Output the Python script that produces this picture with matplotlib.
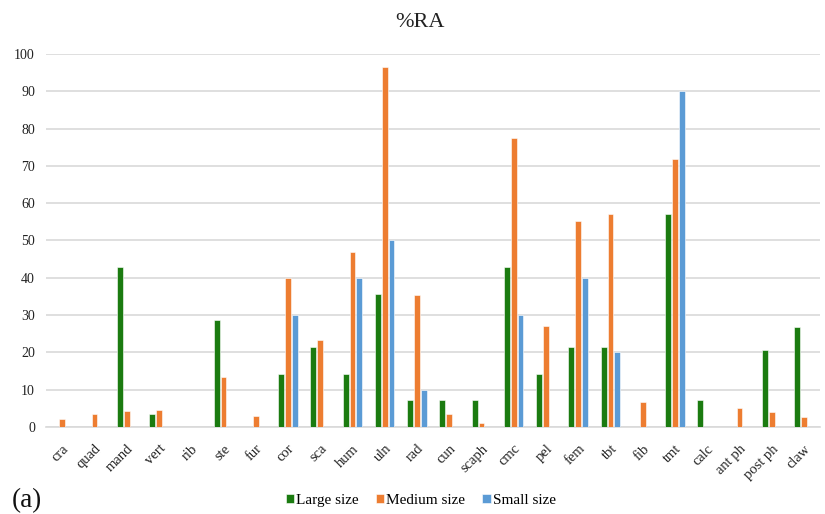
import matplotlib
matplotlib.use("Agg")
import matplotlib.pyplot as plt
import numpy as np

categories = ["cra", "quad", "mand", "vert", "rib", "ste", "fur", "cor", "sca", "hum", "uln",
              "rad", "cun", "scaph", "cmc", "pel", "fem", "tbt", "fib", "tmt", "calc",
              "ant ph", "post ph", "claw"]
large = [0, 0, 42.9, 3.6, 0, 28.6, 0, 14.3, 21.4, 14.3, 35.7, 7.1, 7.1, 7.1, 42.9, 14.3,
         21.4, 21.4, 0, 57.1, 7.1, 0, 20.7, 26.8]
medium = [2.1, 3.6, 4.2, 4.6, 0, 13.4, 3.0, 40.0, 23.4, 46.8, 96.4, 35.3, 3.6, 1.0, 77.4, 27.1,
          55.3, 57.2, 6.7, 71.8, 0, 5.1, 4.1, 2.8]
small = [0, 0, 0, 0, 0, 0, 0, 30, 0, 40, 50, 10, 0, 0, 30, 0,
         40, 20, 0, 90, 0, 0, 0, 0]
series_names = ["Large size", "Medium size", "Small size"]
colors = ["#1B7B10", "#ED7D31", "#5B9BD5"]

plt.rcParams['font.family'] = ['Liberation Serif', 'DejaVu Serif']

fig = plt.figure(figsize=(8.25, 5.14), dpi=100)
ax = fig.add_axes([0.0558, 0.1693, 0.9382, 0.7257])

x = np.arange(len(categories))
w = 0.18
off = 0.21
for i, (vals, name, c) in enumerate(zip([large, medium, small], series_names, colors)):
    ax.bar(x + (i - 1) * off, vals, width=w, color=c, label=name,
           edgecolor='white', linewidth=0.4, zorder=3)

ax.set_xlim(-0.5, len(categories) - 0.5)
ax.set_ylim(0, 100)
ax.set_yticks(np.arange(0, 101, 10))
ax.yaxis.grid(True, color='#d9d9d9', linewidth=1.2, zorder=0)
ax.set_axisbelow(True)
for s in ['top', 'right', 'left']:
    ax.spines[s].set_visible(False)
ax.spines['bottom'].set_color('#d9d9d9')
ax.spines['bottom'].set_linewidth(1.2)
ax.tick_params(axis='y', length=0, labelsize=10, pad=8, colors='#222222')
ax.tick_params(axis='x', length=0, labelsize=10.5, pad=11, colors='#222222')
ax.set_xticks(x)
ax.set_xticklabels(categories, rotation=45, ha='right', rotation_mode='anchor')

fig.text(0.509, 0.957, "%RA", ha='center', va='center', fontsize=16, color='#222222')
fig.text(0.014, 0.027, "(a)", ha='left', va='center', fontsize=19.5, color='#111111')

leg = fig.legend(loc='center', bbox_to_anchor=(0.510, 0.027), ncol=3, frameon=False,
                 fontsize=11, handlelength=0.55, handleheight=0.55, handletextpad=0.15,
                 columnspacing=1.1)

fig.savefig("out.png", dpi=100)
